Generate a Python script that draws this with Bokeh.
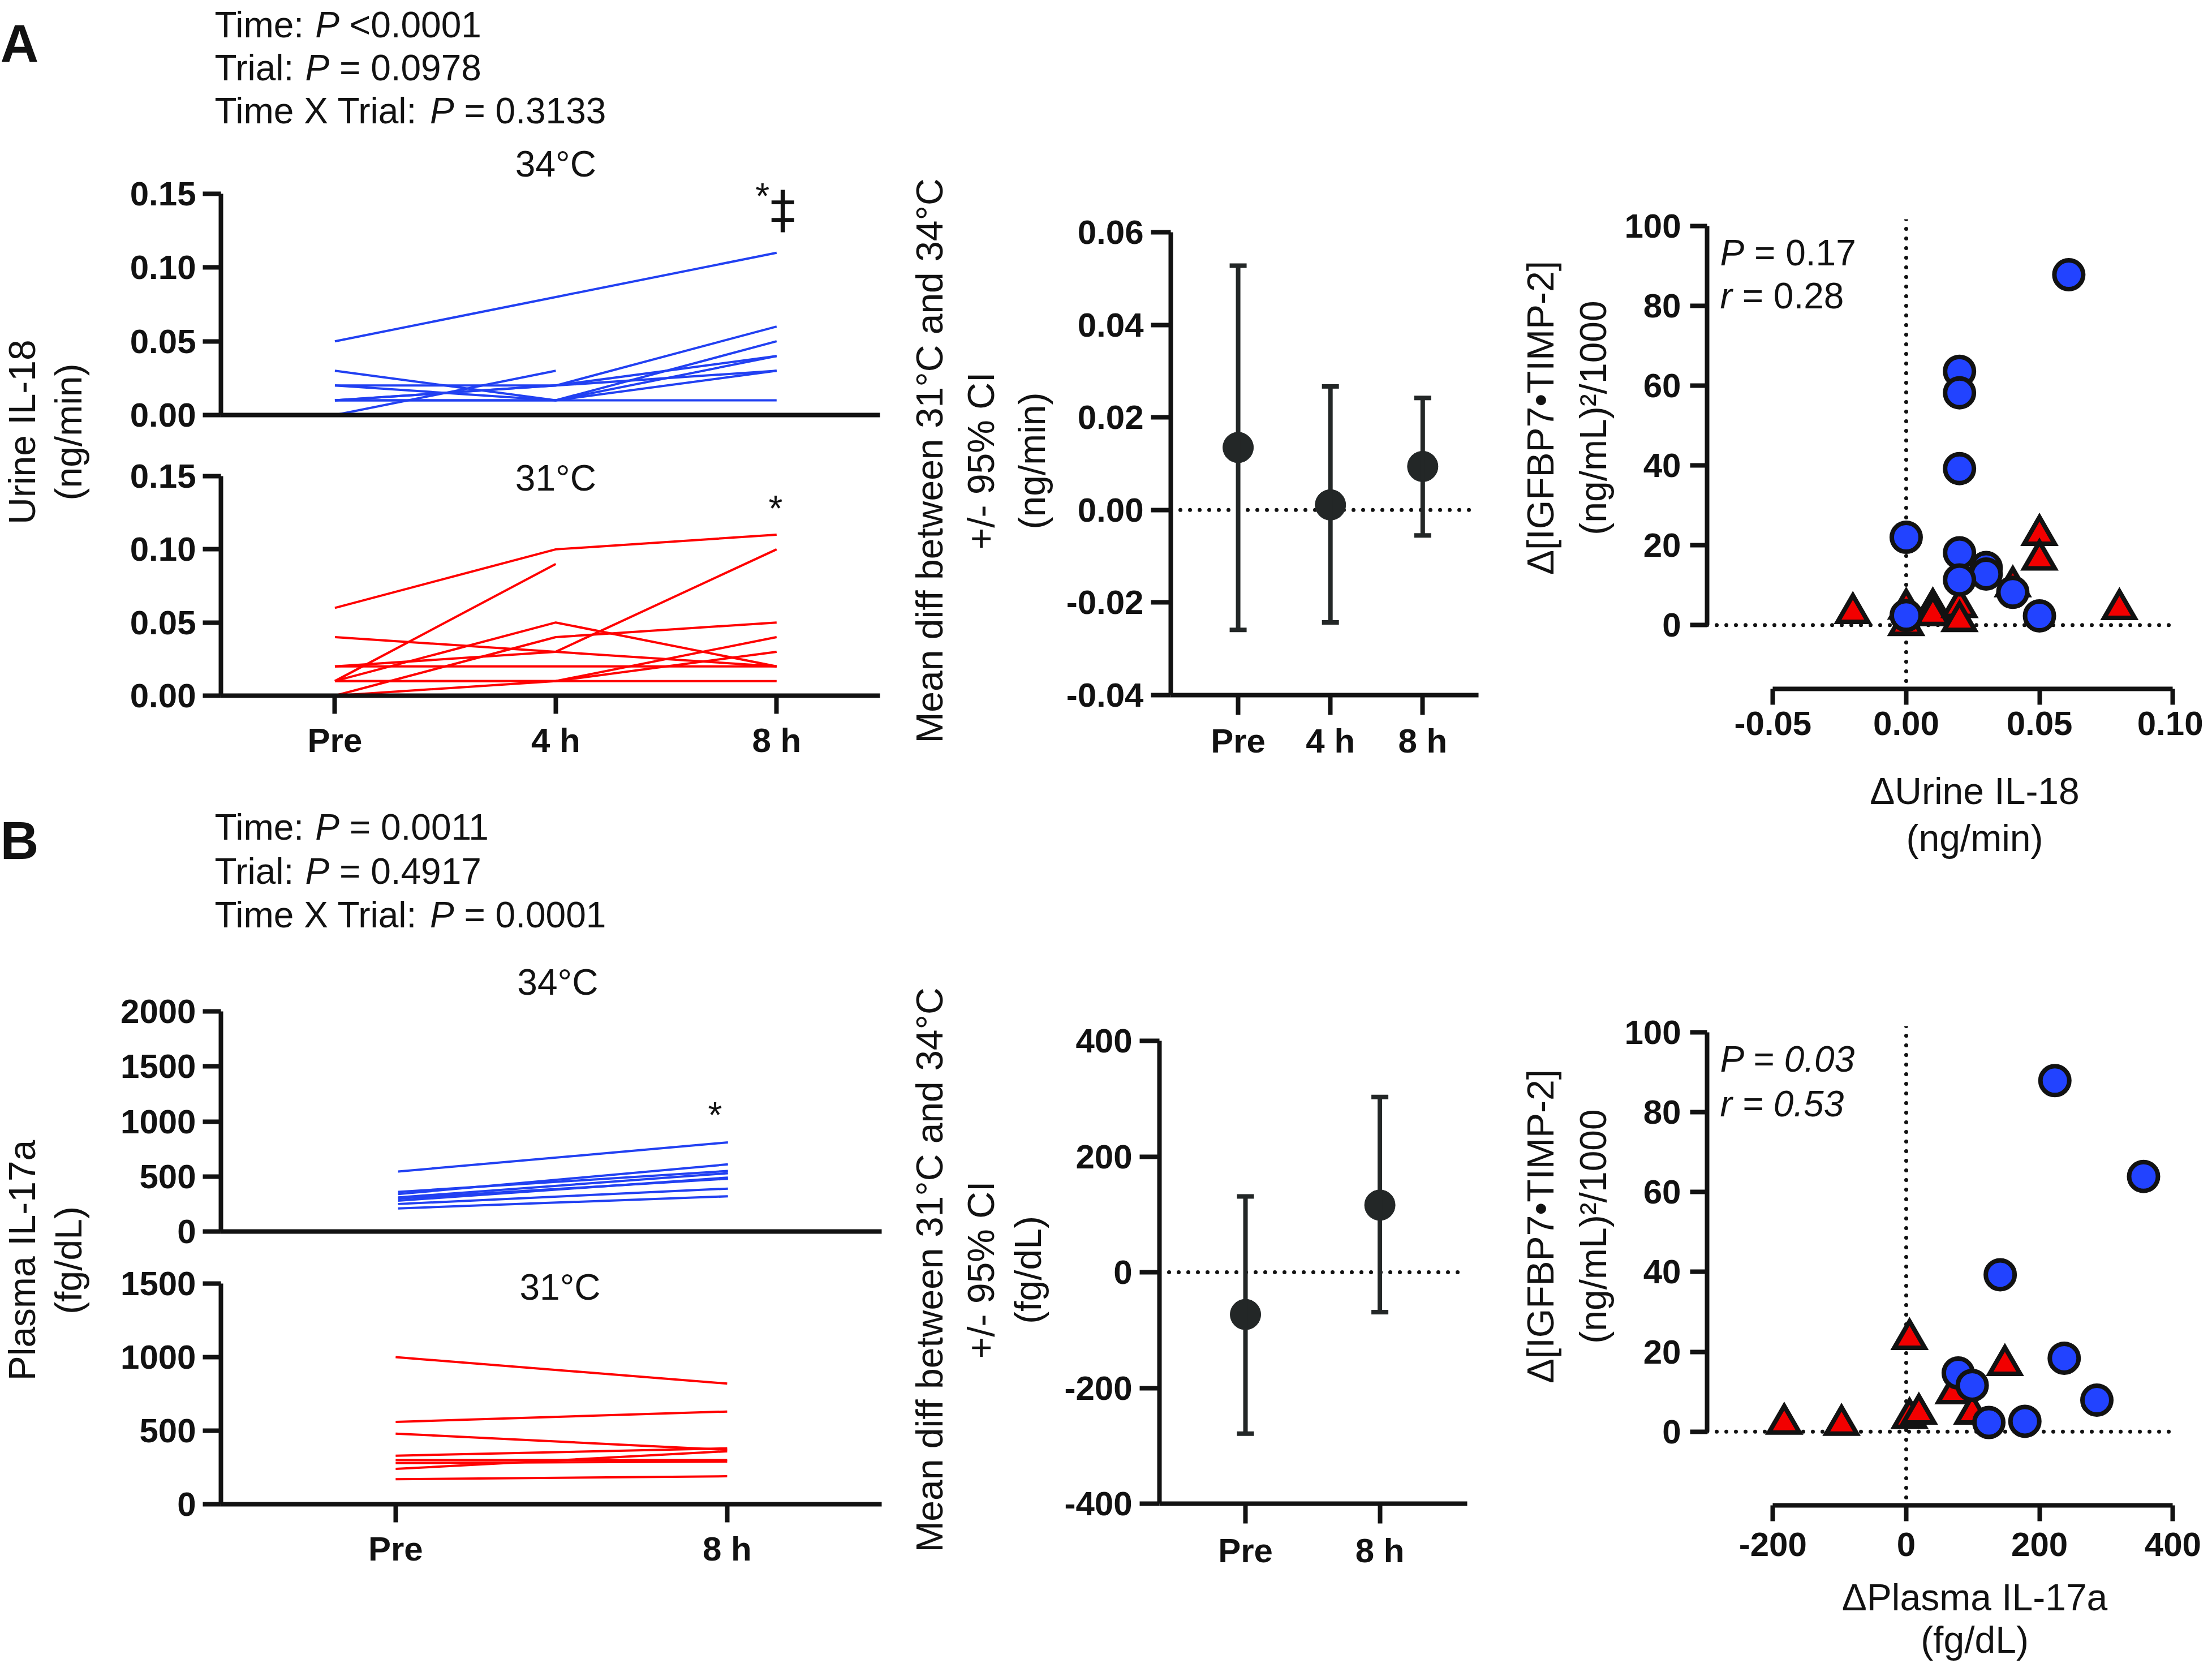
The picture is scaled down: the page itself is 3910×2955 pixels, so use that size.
import math
from bokeh.plotting import figure
from bokeh.layouts import row, column
from bokeh.models import (Range1d, FixedTicker, PrintfTickFormatter, Label, Span,
                          Whisker, TeeHead, ColumnDataSource, Spacer)
from bokeh.embed import file_html
from bokeh.resources import INLINE

# ---------------------------------------------------------------- data
urine_times = ["Pre", "4 h", "8 h"]
plasma_times = ["Pre", "8 h"]

# urine IL-18 (ng/min), one row per subject: Pre, 4 h, 8 h
urine_34 = [
    [0.05, 0.08, 0.11],
    [0.03, 0.01, 0.05],
    [0.02, 0.02, 0.06],
    [0.02, 0.01, 0.04],
    [0.01, 0.02, 0.03],
    [0.01, 0.01, 0.01],
    [0.00, 0.03, None],
    [0.01, 0.02, 0.04],
    [0.01, 0.01, 0.03],
]
urine_31 = [
    [0.06, 0.10, 0.11],
    [0.01, 0.09, None],
    [0.04, 0.03, 0.02],
    [0.02, 0.03, 0.10],
    [0.01, 0.05, 0.02],
    [0.00, 0.04, 0.05],
    [0.02, 0.02, 0.02],
    [0.01, 0.01, 0.04],
    [0.00, 0.01, 0.03],
    [0.01, 0.01, 0.01],
]
# plasma IL-17a (fg/dL): Pre, 8 h
plasma_34 = [[545, 810], [360, 550], [340, 610], [310, 530],
             [300, 480], [280, 490], [250, 390], [210, 320]]
plasma_31 = [[1000, 820], [560, 630], [480, 370], [330, 380],
             [300, 300], [280, 290], [240, 360], [170, 190]]

# mean difference between 31C and 34C +/- 95% CI
urine_diff_mean = [0.0135, 0.0011, 0.0094]
urine_diff_lower = [-0.0259, -0.0243, -0.0055]
urine_diff_upper = [0.0528, 0.0267, 0.0242]
plasma_diff_mean = [-73, 116]
plasma_diff_lower = [-279, -69]
plasma_diff_upper = [131, 303]

# correlations: delta biomarker vs delta [IGFBP7*TIMP-2]
urine_blue_x = [0.061, 0.02, 0.02, 0.02, 0.00, 0.02, 0.03, 0.03, 0.02, 0.04, 0.00, 0.05]
urine_blue_y = [87.8, 63.6, 58.2, 39.2, 22.0, 18.1, 14.4, 12.8, 11.3, 8.2, 2.4, 2.3]
urine_red_x = [-0.02, 0.00, 0.00, 0.01, 0.01, 0.02, 0.02, 0.04, 0.05, 0.05, 0.08]
urine_red_y = [3.0, 0.0, 4.1, 4.2, 2.5, 4.5, 1.0, 9.7, 22.6, 16.4, 4.0]
plasma_blue_x = [223, 356, 141, 237, 78, 99, 286, 124, 178]
plasma_blue_y = [87.9, 63.9, 39.3, 18.4, 14.7, 11.6, 7.9, 2.3, 2.6]
plasma_red_x = [-183, -97, 5, 5, 19, 71, 148, 99]
plasma_red_y = [2.0, 1.7, 23.2, 3.4, 4.5, 9.6, 16.7, 4.5]

# tick values
urine_ticks_y = [0, 0.05, 0.10, 0.15]
plasma34_ticks_y = [0, 500, 1000, 1500, 2000]
plasma31_ticks_y = [0, 500, 1000, 1500]
urine_diff_ticks = [-0.04, -0.02, 0, 0.02, 0.04, 0.06]
plasma_diff_ticks = [-400, -200, 0, 200, 400]
corr_y_ticks = [0, 20, 40, 60, 80, 100]
urine_corr_x_ticks = [-0.05, 0, 0.05, 0.10]
plasma_corr_x_ticks = [-200, 0, 200, 400]

# texts
stats_A = [("Time:", "P", "<0.0001"), ("Trial:", "P", "= 0.0978"), ("Time X Trial:", "P", "= 0.3133")]
stats_B = [("Time:", "P", "= 0.0011"), ("Trial:", "P", "= 0.4917"), ("Time X Trial:", "P", "= 0.0001")]
corr_A = [("P", "= 0.17"), ("r", "= 0.28")]
corr_B = ["P = 0.03", "r = 0.53"]
ylab_urine = ["Urine IL-18", "(ng/min)"]
ylab_plasma = ["Plasma IL-17a", "(fg/dL)"]
ylab_diff_urine = ["Mean diff between 31\u00b0C and 34\u00b0C", "+/- 95% CI", "(ng/min)"]
ylab_diff_plasma = ["Mean diff between 31\u00b0C and 34\u00b0C", "+/- 95% CI", "(fg/dL)"]
ylab_corr = ["\u0394[IGFBP7\u2022TIMP-2]", "(ng/mL)\u00b2/1000"]
xlab_urine_corr = ["\u0394Urine IL-18", "(ng/min)"]
xlab_plasma_corr = ["\u0394Plasma IL-17a", "(fg/dL)"]

# ---------------------------------------------------------------- style
INK = "#121212"
FONT = "Liberation Sans"
BLUE_LINE = "#2140f2"
RED_LINE = "#ff0000"
BLUE_FILL = "#2243ff"
RED_FILL = "#f20000"
MEAN_COL = "#232727"
TXT = 64
AX_TXT = 66
TICK_TXT = "60px"
BASE_FIX = 15   # lift for alphabetic-baseline labels

W_ARIAL = {' ': 278, ':': 278, '<': 584, '=': 584, '.': 278, 'T': 611, 'i': 222,
           'm': 833, 'e': 556, 'r': 333, 'a': 556, 'l': 222, 'X': 667, 'P': 667}


def tw(s, size):
    return sum(W_ARIAL.get(c, 556) for c in s) * size / 1000.0


def lab(p, x, y, text, size=TXT, style="normal", align="left", baseline="alphabetic",
        angle=0.0, xo=0.0, font=FONT):
    yo = BASE_FIX if baseline == "alphabetic" else 0
    p.add_layout(Label(x=x, y=y, x_offset=xo, y_offset=yo, text=text, text_font=font,
                       text_font_size=f"{size}px", text_font_style=style,
                       text_color=INK, text_align=align, text_baseline=baseline,
                       angle=angle))


def rich(p, x, y, parts, size=TXT):
    off = 0.0
    for txt, st in parts:
        lab(p, x, y, txt, size, st, xo=off)
        off += tw(txt, size) + tw(" ", size)


def text_fig(w, h):
    p = figure(width=w, height=h, x_range=Range1d(0, w), y_range=Range1d(0, h),
               x_axis_type=None, y_axis_type=None, toolbar_location=None,
               title_location=None, output_backend="svg",
               min_border_left=0, min_border_right=0,
               min_border_top=0, min_border_bottom=0)
    p.title.visible = False
    p.outline_line_color = None
    return p


def axes_fig(w, h, xr, yr, bl, br, bt, bb):
    p = figure(width=w, height=h, x_range=Range1d(*xr), y_range=Range1d(*yr),
               toolbar_location=None, title_location=None, output_backend="svg",
               min_border_left=bl, min_border_right=br,
               min_border_top=bt, min_border_bottom=bb)
    p.title.visible = False
    p.xgrid.visible = False
    p.ygrid.visible = False
    p.outline_line_color = None
    return p


def style_axis(ax, ticks, fmt=None, overrides=None, tick_out=32, standoff=12, bounds=None):
    ax.ticker = FixedTicker(ticks=ticks)
    ax.axis_line_width = 8
    ax.axis_line_color = INK
    ax.major_tick_line_width = 8
    ax.major_tick_line_color = INK
    ax.major_tick_in = 0
    ax.major_tick_out = tick_out
    ax.minor_tick_line_color = None
    ax.major_label_text_font = FONT
    ax.major_label_text_font_style = "bold"
    ax.major_label_text_font_size = TICK_TXT
    ax.major_label_text_color = INK
    ax.major_label_standoff = standoff
    if fmt:
        ax.formatter = PrintfTickFormatter(format=fmt)
    if overrides:
        ax.major_label_overrides = overrides
    if bounds:
        ax.bounds = bounds


def series(rows):
    xs, ys = [], []
    for r in rows:
        pts = [(i, v) for i, v in enumerate(r) if v is not None]
        xs.append([q[0] for q in pts])
        ys.append([q[1] for q in pts])
    return xs, ys


def dotted(p, loc, dim):
    p.add_layout(Span(location=loc, dimension=dim, line_color=INK, line_width=7,
                      line_dash="0 17", line_cap="round", level="underlay"))


def ty(h, top, page_y):
    return h - (page_y - top)


def vlabels(p, xs_px, yc, lines, size=AX_TXT):
    for x, t in zip(xs_px, lines):
        lab(p, x, yc, t, size, align="center", baseline="middle", angle=math.pi / 2)


u_over = {i: t for i, t in enumerate(urine_times)}
p_over = {i: t for i, t in enumerate(plasma_times)}

# ---------------------------------------------------------------- column 1
hdrA = text_fig(1582, 239)                       # page 8..247
lab(hdrA, 0, ty(239, 8, 100), "A", 94, "bold")
for k, (a, b, c) in enumerate(stats_A):
    rich(hdrA, 379, ty(239, 8, [66, 142, 218][k]), [(a, "normal"), (b, "italic"), (c, "normal")])

topA = axes_fig(1400, 550, (-0.516, 2.468), (0, 0.1876), 208, 27, 5, 56)
style_axis(topA.yaxis[0], urine_ticks_y, "%.2f", standoff=12,
           bounds=(min(urine_ticks_y), max(urine_ticks_y)))
style_axis(topA.xaxis[0], [], tick_out=0)
xs, ys = series(urine_34)
topA.multi_line(xs, ys, line_color=BLUE_LINE, line_width=4)
lab(topA, 1.0, 0.1642, "34\u00b0C", align="center")
lab(topA, 1.936, 0.1427, "*", align="center")
lab(topA, 2.028, 0.1335, "\u2021", 90, align="center", font="DejaVu Sans")

botA = axes_fig(1400, 570, (-0.516, 2.468), (0, 0.1682), 208, 27, 5, 130)
style_axis(botA.yaxis[0], urine_ticks_y, "%.2f", standoff=12,
           bounds=(min(urine_ticks_y), max(urine_ticks_y)))
style_axis(botA.xaxis[0], list(u_over.keys()), overrides=u_over, standoff=13)
xs, ys = series(urine_31)
botA.multi_line(xs, ys, line_color=RED_LINE, line_width=4)
lab(botA, 1.0, 0.1427, "31\u00b0C", align="center")
lab(botA, 1.995, 0.1220, "*", align="center")

ylabA = text_fig(182, 1120)                      # page 247..1367
vlabels(ylabA, [38, 120], ty(1120, 247, 771), ylab_urine)

hdrB = text_fig(1582, 320)                       # page 1367..1687
lab(hdrB, 0, ty(320, 1367, 1508), "B", 94, "bold")
for k, (a, b, c) in enumerate(stats_B):
    rich(hdrB, 379, ty(320, 1367, [1484, 1562, 1639][k]), [(a, "normal"), (b, "italic"), (c, "normal")])

topB = axes_fig(1400, 535, (-0.537, 1.466), (0, 2529.6), 208, 24, 5, 38)
style_axis(topB.yaxis[0], plasma34_ticks_y, "%d", standoff=12,
           bounds=(min(plasma34_ticks_y), max(plasma34_ticks_y)))
style_axis(topB.xaxis[0], [], tick_out=0)
xs, ys = series(plasma_34)
topB.multi_line(xs, ys, line_color=BLUE_LINE, line_width=4)
lab(topB, 0.484, 2190, "34\u00b0C", align="center")
lab(topB, 0.961, 977, "*", align="center")

botB = axes_fig(1400, 575, (-0.527, 1.466), (0, 1688.5), 208, 24, 5, 131)
style_axis(botB.yaxis[0], plasma31_ticks_y, "%d", standoff=12,
           bounds=(min(plasma31_ticks_y), max(plasma31_ticks_y)))
style_axis(botB.xaxis[0], list(p_over.keys()), overrides=p_over, standoff=13)
xs, ys = series(plasma_31)
botB.multi_line(xs, ys, line_color=RED_LINE, line_width=4)
lab(botB, 0.496, 1419, "31\u00b0C", align="center")

ylabB = text_fig(182, 1110)                      # page 1687..2797
vlabels(ylabB, [38, 120], ty(1110, 1687, 2235), ylab_plasma)

col1 = column(hdrA, row(ylabA, column(topA, botA)), hdrB, row(ylabB, column(topB, botB)))

# ---------------------------------------------------------------- column 2


def diff_panel(p, times, mean, lower, upper):
    src = ColumnDataSource(dict(x=list(range(len(times))), mean=mean, lower=lower, upper=upper))
    dotted(p, 0, "width")
    p.add_layout(Whisker(base="x", upper="upper", lower="lower", source=src,
                         line_color=MEAN_COL, line_width=8, level="glyph",
                         upper_head=TeeHead(size=30, line_width=8, line_color=MEAN_COL),
                         lower_head=TeeHead(size=30, line_width=8, line_color=MEAN_COL)))
    p.scatter("x", "mean", source=src, size=54, fill_color=MEAN_COL, line_color=MEAN_COL)


midA = axes_fig(810, 1392, (-0.73, 2.605), (-0.04, 0.06), 197, 69, 403, 171)
style_axis(midA.yaxis[0], urine_diff_ticks, "%.2f", standoff=13, tick_out=35)
style_axis(midA.xaxis[0], list(u_over.keys()), overrides=u_over, standoff=12, tick_out=35)
diff_panel(midA, urine_times, urine_diff_mean, urine_diff_lower, urine_diff_upper)
labMidA = text_fig(290, 1392)
vlabels(labMidA, [60, 151, 241], ty(1392, 8, 815), ylab_diff_urine)

midB = axes_fig(810, 1390, (-0.64, 1.65), (-400, 400), 177, 89, 440, 132)
style_axis(midB.yaxis[0], plasma_diff_ticks, "%d", standoff=13, tick_out=35)
style_axis(midB.xaxis[0], list(p_over.keys()), overrides=p_over, standoff=14, tick_out=35)
diff_panel(midB, plasma_times, plasma_diff_mean, plasma_diff_lower, plasma_diff_upper)
labMidB = text_fig(290, 1390)
vlabels(labMidB, [60, 151, 234], ty(1390, 1400, 2245), ylab_diff_plasma)

col2 = column(Spacer(width=10, height=7), row(labMidA, column(midA)),
              row(labMidB, column(midB)))

# ---------------------------------------------------------------- column 3


def corr_panel(p, xt, xfmt, bx, by, rx, ry, x_standoff):
    style_axis(p.yaxis[0], corr_y_ticks, "%d", standoff=16, tick_out=30,
               bounds=(min(corr_y_ticks), max(corr_y_ticks)))
    style_axis(p.xaxis[0], xt, xfmt, standoff=x_standoff, tick_out=28,
               bounds=(min(xt), max(xt)))
    dotted(p, 0, "width")
    dotted(p, 0, "height")
    p.scatter(rx, ry, marker="triangle", size=54, fill_color=RED_FILL, line_color=INK,
              line_width=8, line_join="miter")
    p.scatter(bx, by, marker="circle", size=51, fill_color=BLUE_FILL, line_color=INK,
              line_width=8)


scatA = axes_fig(1032, 1337, (-0.0747, 0.1021), (-16.0, 101.7), 155, 44, 387, 120)
corr_panel(scatA, urine_corr_x_ticks, "%.2f", urine_blue_x, urine_blue_y,
           urine_red_x, urine_red_y, 12)
rich(scatA, -0.0698, 91.2, [(corr_A[0][0], "italic"), (corr_A[0][1], "normal")])
rich(scatA, -0.0698, 80.3, [(corr_A[1][0], "italic"), (corr_A[1][1], "normal")])
labScA = text_fig(180, 1337)
vlabels(labScA, [40, 133], ty(1337, 8, 746), ylab_corr)
labXA = text_fig(1212, 185)
lab(labXA, 808, ty(185, 1345, 1420), xlab_urine_corr[0], AX_TXT, align="center")
lab(labXA, 808, ty(185, 1345, 1503), xlab_urine_corr[1], AX_TXT, align="center")

scatB = axes_fig(1032, 1254, (-298.7, 408.2), (-18.45, 101.55), 155, 44, 291, 116)
corr_panel(scatB, plasma_corr_x_ticks, "%d", plasma_blue_x, plasma_blue_y,
           plasma_red_x, plasma_red_y, 20)
lab(scatB, -279.2, 91.2, corr_B[0], style="italic")
lab(scatB, -279.2, 79.9, corr_B[1], style="italic")
labScB = text_fig(180, 1254)
vlabels(labScB, [40, 133], ty(1254, 1530, 2175), ylab_corr)
labXB = text_fig(1212, 163)                      # page 2784..2947
lab(labXB, 808, ty(163, 2784, 2845), xlab_plasma_corr[0], AX_TXT, align="center")
lab(labXB, 808, ty(163, 2784, 2920), xlab_plasma_corr[1], AX_TXT, align="center")

col3 = column(row(labScA, column(scatA)), labXA, row(labScB, column(scatB)), labXB)

layout = row(col1, col2, col3)

with open("out.html", "w") as f:
    f.write(file_html(layout, INLINE))
